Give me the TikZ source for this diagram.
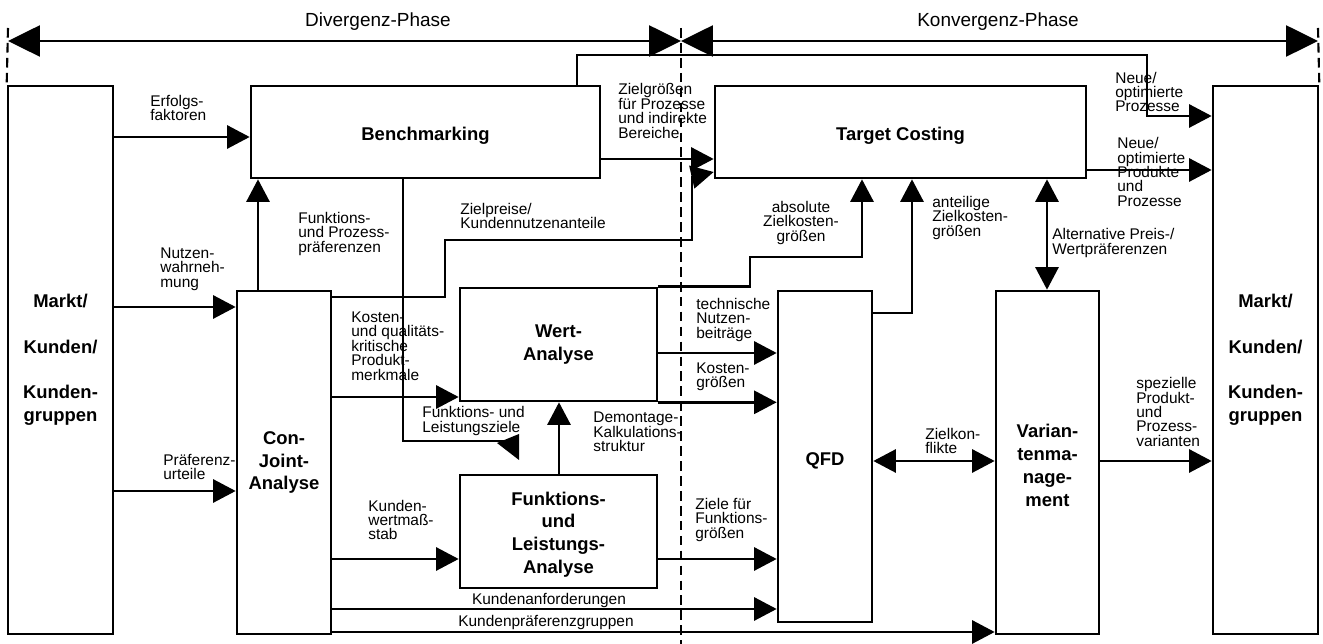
\documentclass[tikz,border=0pt]{standalone}
\usepackage{fontspec}
\setmainfont{Liberation Sans}
\usetikzlibrary{arrows.meta,fit}
\lineskiplimit=-30pt
\begin{document}
\begin{tikzpicture}[x=0.02cm,y=-0.02cm,
  box/.style={draw, line width=1.5pt, inner sep=0pt},
  ln/.style={line width=1.5pt},
  arr/.style={line width=1.5pt, -{Triangle[length=0.45cm,width=0.46cm]}},
  darr/.style={line width=1.5pt, {Triangle[length=0.45cm,width=0.46cm]}-{Triangle[length=0.45cm,width=0.46cm]}},
  bigarr/.style={line width=1.5pt, {Triangle[length=0.64cm,width=0.62cm]}-{Triangle[length=0.64cm,width=0.62cm]}},
  dashln/.style={line width=1.2pt, dash pattern=on 5.5pt off 3pt},
  lbl/.style={font=\fontsize{8.8}{8.2}\selectfont, align=left, inner sep=0pt, anchor=west},
  clbl/.style={font=\fontsize{8.8}{8.2}\selectfont, align=center, inner sep=0pt},
  bt/.style={font=\bfseries\fontsize{10.5}{13}\selectfont, align=center, inner sep=0pt},
  hd/.style={font=\fontsize{10.8}{13}\selectfont, inner sep=0pt}
]
\useasboundingbox[fill=white] (0,0) rectangle (1323,644);

% boxes
\node[box, fit={(8,86) (113,634)}] (mkL) {};
\node[box, fit={(1213,86) (1318,634)}] (mkR) {};
\node[box, fit={(251,86) (600,178)}] (bm) {};
\node[box, fit={(715,86) (1086,178)}] (tc) {};
\node[box, fit={(237,291) (331,634)}] (cj) {};
\node[box, fit={(460,288) (657,401)}] (wa) {};
\node[box, fit={(460,475) (657,588)}] (fla) {};
\node[box, fit={(778,291) (872,622)}] (qfd) {};
\node[box, fit={(996,291) (1099,634)}] (vm) {};

% box texts
\node[bt] at (mkL.center) {Markt/\\[13pt]Kunden/\\[13pt]Kunden-\\gruppen};
\node[bt] at (mkR.center) {Markt/\\[13pt]Kunden/\\[13pt]Kunden-\\gruppen};
\node[bt] at ([yshift=-0.08cm]bm.center) {Benchmarking};
\node[bt] at ([yshift=-0.08cm]tc.center) {Target Costing};
\node[bt] at (cj.center) {Con-\\Joint-\\Analyse};
\node[bt] at (wa.center) {Wert-\\Analyse};
\node[bt] at ([yshift=-0.06cm]fla.center) {Funktions-\\und\\Leistungs-\\Analyse};
\node[bt] at ([yshift=-0.08cm]qfd.center) {QFD};
\node[bt] at ([yshift=-0.06cm]vm.center) {Varian-\\tenma-\\nage-\\ment};

% phase arrows and dashed separators
\coordinate (dl) at (8,41);
\coordinate (dm) at (681,41);
\coordinate (dr) at (1318,41);
\draw[dashln] (8,28) -- (mkL.north west);
\draw[dashln] (681,28) -- (681,644);
\draw[dashln] (1318,28) -- (mkR.north east);
\draw[bigarr] (dl) -- (dm);
\draw[bigarr] (dm) -- (dr);
\node[hd] at (378,22) {Divergenz-Phase};
\node[hd] at (998,22) {Konvergenz-Phase};

% connectors
\draw[arr] (mkL.east |- 0,137) -- (bm.west |- 0,137);
\draw[arr] (mkL.east |- 0,307) -- (cj.west |- 0,307);
\draw[arr] (mkL.east |- 0,491) -- (cj.west |- 0,491);
\draw[arr] (cj.north -| 258,0) -- (bm.south -| 258,0);
\draw[ln] (cj.east |- 0,297) -| (445,240) -| (692,176);
\draw[arr] (692,177) -- (tc.west |- 0,172);
\draw[arr] (bm.east |- 0,159) -- (tc.west |- 0,159);
\draw[arr] (bm.north -| 577,0) |- (1147,55) |- (mkR.west |- 0,116);
\draw[arr] (tc.east |- 0,170) -- (mkR.west |- 0,170);
\draw[ln] (bm.south -| 403,0) |- (505,441);
\fill (497,443) -- (519,434) -- (519,460) -- cycle;
\draw[arr] (cj.east |- 0,397) -- (wa.west |- 0,397);
\draw[arr] (cj.east |- 0,559) -- (fla.west |- 0,559);
\draw[arr] (cj.east |- 0,609) -- (qfd.west |- 0,609);
\draw[arr] (cj.east |- 0,632) -- (vm.west |- 0,632);
\draw[arr] (fla.north -| 559,0) -- (wa.south -| 559,0);
\draw[arr] (wa.east |- 0,353) -- (qfd.west |- 0,353);
\draw[arr] (wa.south east) -- (qfd.west |- wa.south east);
\draw[arr] (fla.east |- 0,559) -- (qfd.west |- 0,559);
\draw[arr] (wa.north east) -| (750,257) -| (tc.south -| 862,0);
\draw[arr] (qfd.east |- 0,313) -| (tc.south -| 912,0);
\draw[darr] (tc.south -| 1047,0) -- (vm.north -| 1047,0);
\draw[darr] (qfd.east |- 0,461) -- (vm.west |- 0,461);
\draw[arr] (vm.east |- 0,461) -- (mkR.west |- 0,461);

% labels
\node[lbl] at (150,108) {Erfolgs-\\faktoren};
\node[lbl] at (160,269) {Nutzen-\\wahrneh-\\mung};
\node[lbl] at (163,467) {Präferenz-\\urteile};
\node[lbl] at (298,234) {Funktions-\\und Prozess-\\präferenzen};
\node[lbl] at (460,216) {Zielpreise/\\Kundennutzenanteile};
\node[lbl] at (351,346) {Kosten-\\und qualitäts-\\kritische\\Produkt-\\merkmale};
\node[lbl] at (422,421) {Funktions- und\\Leistungsziele};
\node[lbl] at (593,432) {Demontage-\\Kalkulations-\\struktur};
\node[lbl] at (696,320) {technische\\Nutzen-\\beiträge};
\node[lbl] at (696,377) {Kosten-\\größen};
\node[lbl] at (695,520) {Ziele für\\Funktions-\\größen};
\node[lbl] at (368,520) {Kunden-\\wertmaß-\\stab};
\node[clbl] at (549,601) {Kundenanforderungen};
\node[clbl] at (546,623) {Kundenpräferenzgruppen};
\node[lbl] at (618,111) {Zielgrößen\\für Prozesse\\und indirekte\\Bereiche};
\node[lbl] at (1115,92) {Neue/\\optimierte\\Prozesse};
\node[lbl] at (1117,172) {Neue/\\optimierte\\Produkte\\und\\Prozesse};
\node[clbl] at (801,223) {absolute\\Zielkosten-\\größen};
\node[lbl] at (932,218) {anteilige\\Zielkosten-\\größen};
\node[lbl] at (1052,243) {Alternative Preis-/\\Wertpräferenzen};
\node[lbl] at (925,441) {Zielkon-\\flikte};
\node[lbl] at (1136,412) {spezielle\\Produkt-\\und\\Prozess-\\varianten};
\end{tikzpicture}
\end{document}
